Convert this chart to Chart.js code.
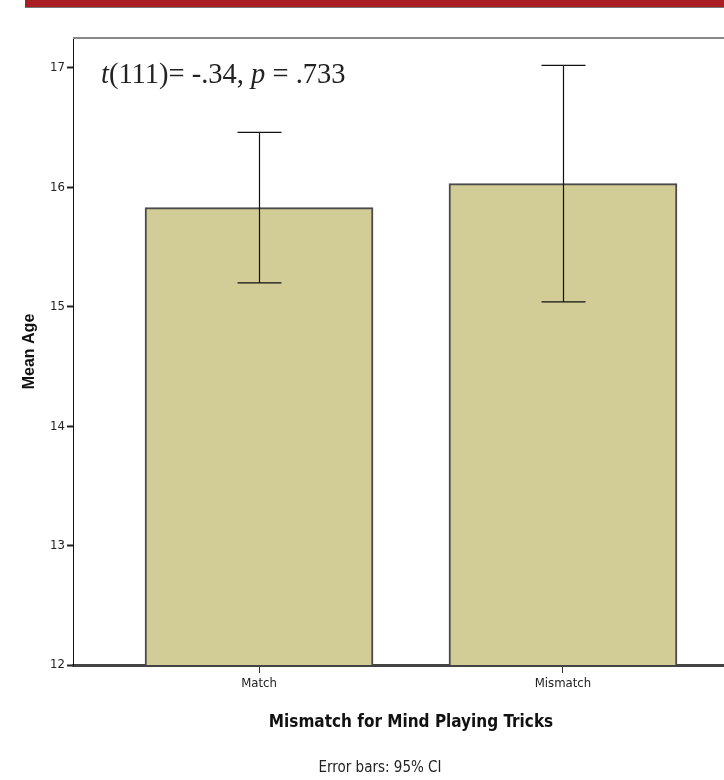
<!DOCTYPE html>
<html>
<head>
<meta charset="utf-8">
<script src="https://cdn.jsdelivr.net/npm/chart.js@4/dist/chart.umd.min.js"></script>
<style>
  html, body { margin: 0; padding: 0; background: #fff; overflow: hidden; width: 724px; height: 780px; }
  #banner { position: absolute; left: 25px; top: 0; width: 699px; height: 7px; background: #a91e23; border-bottom: 1px solid #777; }
  #wrap { position: absolute; left: 0; top: 0; width: 800px; height: 780px; }
</style>
</head>
<body>
<div id="banner"></div>
<div id="wrap"><canvas id="barChart"></canvas></div>
<script>
// data
const categories = ['Match', 'Mismatch'];
const xPos = [0, 1];
const meanAge = [15.83, 16.03];
const ciLow = [15.20, 15.04];
const ciHigh = [16.46, 17.02];
const yTicks = [12, 13, 14, 15, 16, 17];

const NARROW = "'Liberation Sans Narrow', 'Arial Narrow', 'DejaVu Sans Condensed', sans-serif";

const errorBars = {
  id: 'errorBars',
  afterDatasetsDraw(chart) {
    const { ctx, scales: { x, y } } = chart;
    ctx.save();
    ctx.strokeStyle = '#111';
    ctx.lineWidth = 1.2;
    xPos.forEach((v, i) => {
      const px = Math.round(x.getPixelForValue(v)) + 0.5;
      const hi = y.getPixelForValue(ciHigh[i]);
      const lo = y.getPixelForValue(ciLow[i]);
      ctx.beginPath();
      ctx.moveTo(px, hi); ctx.lineTo(px, lo);
      ctx.moveTo(px - 22, hi); ctx.lineTo(px + 22, hi);
      ctx.moveTo(px - 22, lo); ctx.lineTo(px + 22, lo);
      ctx.stroke();
    });
    ctx.restore();
  }
};

const extras = {
  id: 'extras',
  afterDraw(chart) {
    const { ctx, chartArea } = chart;
    ctx.save();
    // top frame line
    ctx.strokeStyle = '#888';
    ctx.lineWidth = 2;
    ctx.beginPath();
    ctx.moveTo(chartArea.left, chartArea.top);
    ctx.lineTo(chartArea.right, chartArea.top);
    ctx.stroke();

    // t-test annotation
    const parts = [
      ['t', true], ['(111)= -.34, ', false], ['p', true], [' = .733', false]
    ];
    let cx = 101;
    ctx.fillStyle = '#222';
    ctx.textBaseline = 'alphabetic';
    parts.forEach(([s, it]) => {
      ctx.font = (it ? 'italic ' : '') + "28.5px 'Liberation Serif', 'Times New Roman', serif";
      ctx.fillText(s, cx, 83);
      cx += ctx.measureText(s).width;
    });

    // footnote
    ctx.font = '15px ' + NARROW;
    ctx.fillStyle = '#222';
    ctx.textAlign = 'center';
    ctx.textBaseline = 'middle';
    ctx.fillText('Error bars: 95% CI', 380, 768);
    ctx.restore();
  }
};

new Chart(document.getElementById('barChart'), {
  type: 'bar',
  data: {
    datasets: [{
      label: 'Mean Age',
      data: xPos.map((v, i) => ({ x: v, y: meanAge[i] })),
      backgroundColor: '#d2cd96',
      borderColor: '#4a4a4a',
      borderWidth: 2,
      borderSkipped: false,
      barThickness: 228
    }]
  },
  options: {
    responsive: true,
    maintainAspectRatio: false,
    animation: false,
    layout: { padding: { left: 0, top: 38, right: 51, bottom: 0 } },
    plugins: { legend: { display: false }, tooltip: { enabled: false } },
    scales: {
      x: {
        type: 'linear',
        offset: false,
        min: -0.612,
        max: 1.612,
        afterBuildTicks: s => { s.ticks = xPos.map(v => ({ value: v })); },
        afterFit: s => { s.height = 115; },
        ticks: {
          callback: v => categories[v] ?? '',
          font: { family: NARROW, size: 13 },
          color: '#222',
          padding: 3,
          maxRotation: 0
        },
        grid: { offset: false, drawOnChartArea: false, drawTicks: true, tickLength: 8, tickColor: '#333' },
        border: { display: true, color: '#444', width: 3 },
        title: {
          display: true,
          text: 'Mismatch for Mind Playing Tricks',
          font: { family: NARROW, size: 17, weight: 'bold' },
          color: '#111',
          padding: { top: 0, bottom: 47 }
        }
      },
      y: {
        min: 12,
        max: 17.25,
        afterBuildTicks: s => { s.ticks = yTicks.map(v => ({ value: v })); },
        afterFit: s => { s.width = 73; },
        ticks: {
          font: { family: NARROW, size: 13 },
          color: '#222',
          padding: 2
        },
        grid: { drawOnChartArea: false, drawTicks: true, tickLength: 6, tickColor: '#222', tickWidth: 2 },
        border: { display: true, color: '#111', width: 1 },
        title: {
          display: true,
          text: 'Mean Age',
          font: { family: 'Liberation Sans, Arial, sans-serif', size: 16, weight: 'bold' },
          color: '#111',
          padding: { top: 20, bottom: 0 }
        }
      }
    }
  },
  plugins: [errorBars, extras]
});
</script>
</body>
</html>
